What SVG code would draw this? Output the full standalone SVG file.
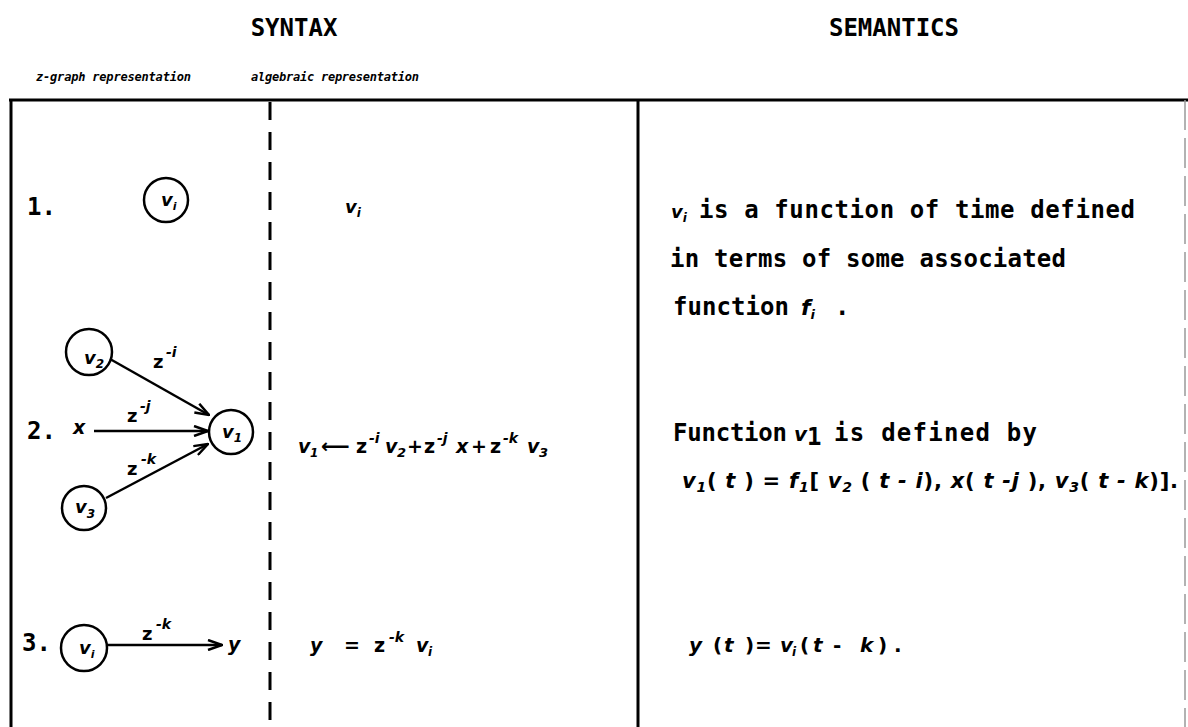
<svg xmlns="http://www.w3.org/2000/svg" width="1188" height="727" viewBox="0 0 1188 727">
<defs>
<style>
.t{font-family:"DejaVu Sans Mono",monospace;font-weight:bold;font-size:24px;fill:#000}
.st{font-family:"DejaVu Sans Mono",monospace;font-weight:bold;font-style:italic;font-size:12px;fill:#000}
.m{font-family:"DejaVu Sans",sans-serif;font-weight:bold;font-style:italic;fill:#000}
.z{font-family:"DejaVu Sans",sans-serif;font-weight:bold;font-style:normal;fill:#000}
.frame{stroke:#000;stroke-width:3;fill:none}
.dash{stroke:#000;stroke-width:3;fill:none;stroke-dasharray:18 12}
.faint{stroke:#999;stroke-width:1.5;fill:none;stroke-dasharray:30 8}
.node circle{fill:none;stroke:#000;stroke-width:2.5}
.edge{stroke:#000;stroke-width:2.5;fill:none;marker-end:url(#arr)}
</style>
<marker id="arr" viewBox="0 0 16 12" refX="15" refY="6" markerWidth="16" markerHeight="12" markerUnits="userSpaceOnUse" orient="auto">
<path d="M1,1 L15,6 L1,11" fill="none" stroke="#000" stroke-width="2.5"/>
</marker>
</defs>
<rect width="1188" height="727" fill="#fff"/>

<g id="headers">
<text class="t" x="294" y="36" text-anchor="middle">SYNTAX</text>
<text class="t" x="894" y="36" text-anchor="middle">SEMANTICS</text>
<text class="st" x="36" y="81" textLength="155">z-graph representation</text>
<text class="st" x="251" y="81" textLength="168">algebraic representation</text>
</g>

<g id="frame">
<path class="frame" d="M9,100 H1188 M11,100 V727 M638,100 V727"/>
<path class="dash" d="M270,102 V727"/>
<path class="faint" d="M1185,100 V727"/>
</g>

<g id="row1">
<text class="t" x="27" y="215">1.</text>
<text class="m" x="345" y="213" font-size="18">v<tspan font-size="12" dy="4">i</tspan></text>
<text class="m" x="671" y="218" font-size="18">v<tspan font-size="12" dy="4">i</tspan></text>
<text class="t" x="699" y="218" textLength="436">is a function of time defined</text>
<text class="t" x="670" y="267" textLength="396">in terms of some associated</text>
<text class="t" x="673" y="315" textLength="116">function</text>
<text class="m" x="801" y="315" font-size="22">f<tspan font-size="13" dy="4">i</tspan></text>
<text class="t" x="835" y="315">.</text>
</g>

<g id="node-vi-1" class="node">
<circle cx="166" cy="200" r="22"/>
<text class="m" x="161" y="206" font-size="18">v<tspan font-size="11" dy="4">i</tspan></text>
</g>

<g id="row2">
<text class="t" x="27" y="439">2.</text>
<text class="m" x="73" y="434" font-size="19">x</text>
<text class="z" x="153" y="368" font-size="18">z</text>
<text class="m" x="166" y="357" font-size="14">-i</text>
<text class="z" x="127" y="422" font-size="18">z</text>
<text class="m" x="140" y="411" font-size="14">-j</text>
<text class="z" x="127" y="475" font-size="18">z</text>
<text class="m" x="141" y="464" font-size="14">-k</text>
<text class="m" y="453" font-size="19"><tspan x="298">v</tspan><tspan x="310" font-size="12" dy="4">1</tspan><tspan class="z" x="321" dy="-4" font-size="20" textLength="26">⟵</tspan><tspan class="z" x="356">z</tspan><tspan x="369" dy="-10" font-size="14">-i</tspan><tspan x="385" dy="10">v</tspan><tspan x="397" dy="4" font-size="13">2</tspan><tspan class="z" x="407" dy="-4">+</tspan><tspan class="z" x="424">z</tspan><tspan x="437" dy="-10" font-size="14">-j</tspan><tspan x="456" dy="10">x</tspan><tspan class="z" x="471">+</tspan><tspan class="z" x="490">z</tspan><tspan x="503" dy="-10" font-size="14">-k</tspan><tspan x="527" dy="10">v</tspan><tspan x="539" dy="4" font-size="13">3</tspan></text>
<text class="t" x="673" y="441" textLength="114">Function</text>
<text class="m" x="794" y="441" font-size="20">v<tspan class="t" font-size="18" font-style="normal" dy="4">1</tspan></text>
<text class="t" x="834" y="441" textLength="203">is defined by</text>
<text class="m" x="682" y="488" font-size="21" textLength="496">v<tspan font-size="14" dy="4">1</tspan><tspan class="z" dy="-4">( </tspan><tspan>t</tspan><tspan class="z"> ) = </tspan><tspan>f</tspan><tspan font-size="14" dy="4">1</tspan><tspan class="z" dy="-4">[ </tspan><tspan>v</tspan><tspan font-size="14" dy="4">2</tspan><tspan class="z" dy="-4"> ( </tspan><tspan>t - i</tspan><tspan class="z">), </tspan><tspan>x</tspan><tspan class="z">( </tspan><tspan>t -j</tspan><tspan class="z"> ), </tspan><tspan>v</tspan><tspan font-size="14" dy="4">3</tspan><tspan class="z" dy="-4">( </tspan><tspan>t - k</tspan><tspan class="z">)].</tspan></text>
</g>

<g id="node-v2" class="node">
<circle cx="89" cy="352" r="23"/>
<text class="m" x="84" y="364" font-size="18">v<tspan font-size="12" dy="4">2</tspan></text>
</g>
<g id="node-v1" class="node">
<circle cx="231" cy="432" r="22"/>
<text class="m" x="222" y="438" font-size="18">v<tspan font-size="12" dy="4">1</tspan></text>
</g>
<g id="node-v3" class="node">
<circle cx="84" cy="508" r="22"/>
<text class="m" x="75" y="513" font-size="18">v<tspan font-size="12" dy="5">3</tspan></text>
</g>

<g id="row3">
<text class="t" x="22" y="651">3.</text>
<text class="z" x="142" y="640" font-size="18">z</text>
<text class="m" x="156" y="629" font-size="14">-k</text>
<text class="m" x="228" y="651" font-size="19">y</text>
<text class="m" y="652" font-size="19"><tspan x="310">y</tspan><tspan class="z" x="344">=</tspan><tspan class="z" x="374">z</tspan><tspan x="389" dy="-10" font-size="14">-k</tspan><tspan x="416" dy="10">v</tspan><tspan x="428" dy="4" font-size="12">i</tspan></text>
<text class="m" y="652" font-size="20"><tspan x="689">y</tspan><tspan class="z" x="713">(</tspan><tspan x="724">t</tspan><tspan class="z" x="745">)</tspan><tspan class="z" x="755">=</tspan><tspan x="780">v</tspan><tspan x="792" dy="4" font-size="12">i</tspan><tspan class="z" x="800" dy="-4">(</tspan><tspan x="813">t</tspan><tspan class="z" x="833">-</tspan><tspan x="860">k</tspan><tspan class="z" x="878">)</tspan><tspan class="z" x="894">.</tspan></text>
</g>

<g id="node-vi-3" class="node">
<circle cx="84" cy="648" r="23"/>
<text class="m" x="79" y="654" font-size="18">v<tspan font-size="11" dy="4">i</tspan></text>
</g>

<g id="connectors">
<line class="edge" x1="110" y1="359" x2="209" y2="415"/>
<line class="edge" x1="94" y1="431" x2="208" y2="431"/>
<line class="edge" x1="106" y1="498" x2="208" y2="444"/>
<line class="edge" x1="107" y1="645" x2="222" y2="645"/>
</g>
</svg>
